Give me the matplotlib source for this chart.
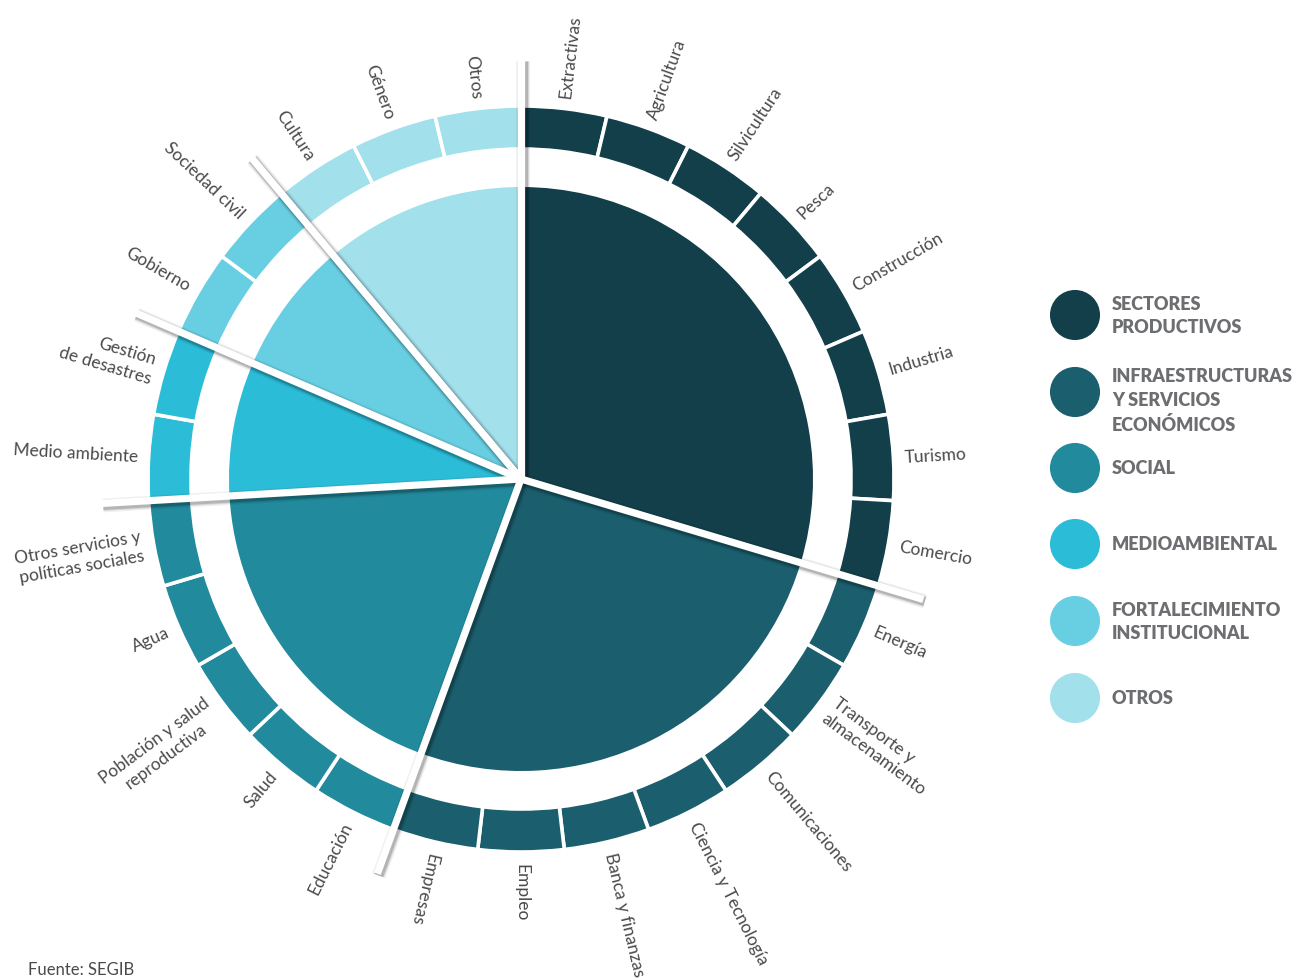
import numpy as np
import matplotlib
matplotlib.use("Agg")
import matplotlib.pyplot as plt

plt.rcParams['font.family'] = ['Lato', 'DejaVu Sans']

# grupos (anillo interior) y sectores (anillo exterior)
groups = ['SECTORES\nPRODUCTIVOS', 'INFRAESTRUCTURAS\nY SERVICIOS\nECONÓMICOS', 'SOCIAL',
          'MEDIOAMBIENTAL', 'FORTALECIMIENTO\nINSTITUCIONAL', 'OTROS']
group_colors = ['#123f4a', '#1b5e6d', '#218a9c', '#2bbcd7', '#68cfe2', '#a2e0ec']

sectors = ['Extractivas', 'Agricultura', 'Silvicultura', 'Pesca', 'Construcción', 'Industria',
           'Turismo', 'Comercio',
           'Energía', 'Transporte y\nalmacenamiento', 'Comunicaciones', 'Ciencia y Tecnología',
           'Banca y finanzas', 'Empleo', 'Empresas',
           'Educación', 'Salud', 'Población y salud\nreproductiva', 'Agua',
           'Otros servicios y\npolíticas sociales',
           'Medio ambiente', 'Gestión\nde desastres',
           'Gobierno', 'Sociedad civil',
           'Cultura', 'Género', 'Otros']
sector_group = [0] * 8 + [1] * 7 + [2] * 5 + [3] * 2 + [4] * 2 + [5] * 3
group_counts = [sector_group.count(g) for g in range(len(groups))]

W, H = 1292, 979
cx, cy = 521, 979 - 480
r_pie, r_ring, ring_w = 292, 373, 43

fig = plt.figure(figsize=(W / 100, H / 100), dpi=100)
ax = fig.add_axes([0, 0, 1, 1])

# tarta interior
ax.pie(group_counts, colors=group_colors, startangle=90, counterclock=False,
       radius=r_pie, center=(cx, cy), wedgeprops=dict(linewidth=0))

# anillo exterior
ax.pie(np.ones(len(sectors)), colors=[group_colors[g] for g in sector_group],
       startangle=90, counterclock=False, radius=r_ring, center=(cx, cy),
       wedgeprops=dict(width=ring_w, edgecolor='white', linewidth=2.6))

# líneas separadoras con sombra
step = 360 / len(sectors)
bounds = 90 - step * np.concatenate([[0], np.cumsum(group_counts)[:-1]])
for a in bounds:
    t = np.radians(a)
    xs = [cx, cx + 420 * np.cos(t)]
    ys = [cy, cy + 420 * np.sin(t)]
    for lw, al in [(10, 0.06), (8, 0.10), (6.5, 0.16)]:
        ax.plot([x + 1.5 for x in xs], [y - 2 for y in ys], color='#000000',
                lw=lw, alpha=al, solid_capstyle='butt', zorder=5)
    ax.plot(xs, ys, color='white', lw=5.2, solid_capstyle='butt', zorder=6)

# etiquetas radiales
r_lab = 384
for i, name in enumerate(sectors):
    a = 90 - step * (i + 0.5)
    a = (a + 180) % 360 - 180
    t = np.radians(a)
    x, y = cx + r_lab * np.cos(t), cy + r_lab * np.sin(t)
    flip = a > 90 or a < -110
    rot = a - 180 if flip else a
    ha = 'right' if flip else 'left'
    ma = 'center' if 'Población' in name else ha
    ax.text(x, y, name, rotation=rot, rotation_mode='anchor', ha=ha, va='center',
            multialignment=ma, fontsize=12.5, fontweight='normal', color='#4a4a4a',
            linespacing=1.25, zorder=7)

# leyenda
leg_y = [316, 393, 469, 545, 622, 699]
for g, (name, col) in enumerate(zip(groups, group_colors)):
    y = H - leg_y[g]
    ax.scatter([1075], [y], s=1300, color=col, edgecolor='none', zorder=7)
    dy = 8 if name.count('\n') == 2 else 0
    ax.text(1112, y - dy, name, ha='left', va='center', fontsize=13,
            fontweight='heavy', color='#6d6e71', linespacing=1.45)

ax.text(28, 1, 'Fuente: SEGIB', ha='left', va='bottom', fontsize=12,
        fontweight='normal', color='#4a4a4a')

ax.set_xlim(0, W)
ax.set_ylim(0, H)
ax.set_aspect('equal')
ax.axis('off')

fig.savefig('out.png', dpi=100)
